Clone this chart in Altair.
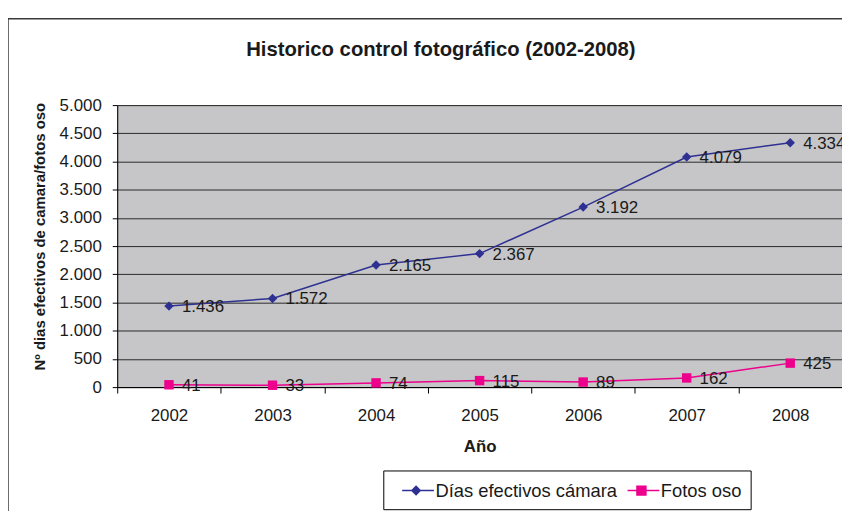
import altair as alt
import pandas as pd

# ---- data ----
years = ["2002", "2003", "2004", "2005", "2006", "2007", "2008"]
dias_camara = [1436, 1572, 2165, 2367, 3192, 4079, 4334]
fotos_oso = [41, 33, 74, 115, 89, 162, 425]
series_names = ["Días efectivos cámara", "Fotos oso"]
y_ticks = [0, 500, 1000, 1500, 2000, 2500, 3000, 3500, 4000, 4500, 5000]

colors = ["#2e3192", "#ec008c"]
marker_shapes = ["diamond", "square"]
FONT = "Liberation Sans"

rows = []
for name, vals in zip(series_names, [dias_camara, fotos_oso]):
    for yr, v in zip(years, vals):
        rows.append({"year": yr, "series": name, "value": v,
                     "label": f"{v:,}".replace(",", ".")})
df = pd.DataFrame(rows)

x_enc = alt.X(
    "year:O",
    sort=years,
    scale=alt.Scale(type="band", paddingInner=0, paddingOuter=0),
    axis=alt.Axis(
        title="Año", labelAngle=0, tickBand="extent", grid=False,
        labelFont=FONT, labelFontSize=17, labelColor="#1a1a1a", labelPadding=15,
        tickSize=6, tickColor="#000", domainColor="#000",
        titleFont=FONT, titleFontSize=17, titleFontWeight="bold", titleColor="#1a1a1a",
        titleX=365, titleY=60, titleBaseline="middle",
    ),
)
y_enc = alt.Y(
    "value:Q",
    scale=alt.Scale(domain=[0, 5000], nice=False),
    axis=alt.Axis(
        values=y_ticks,
        labelExpr="replace(format(datum.value, ','), ',', '.')",
        grid=True, gridColor="#2a2a2a", gridWidth=1,
        labelFont=FONT, labelFontSize=17, labelColor="#1a1a1a", labelPadding=11,
        tickSize=5, tickColor="#000", domainColor="#000",
        title="Nº dias efectivos de camara/fotos oso",
        titleFont=FONT, titleFontSize=15, titleFontWeight="bold", titleColor="#1a1a1a",
        titleX=-70, titleY=132, titleAlign="center",
    ),
)

legend_scale = alt.Scale(domain=series_names, range=colors)
legend_paths = [
    "M-0.1,0H3.1M0.88,0L1.3,-0.42L1.72,0L1.3,0.42Z",
    "M-0.1,0H3.1M0.85,-0.45H1.75V0.45H0.85Z",
]
legend = alt.Legend(
    title=None, orient="none", legendX=268, legendY=368, direction="horizontal",
    strokeColor="#000", fillColor="#ffffff", padding=9,
    labelFont=FONT, labelFontSize=18.5, labelColor="#1a1a1a", labelOffset=21.5,
    labelLimit=400,
    symbolSize=400, symbolStrokeWidth=1.5, symbolOpacity=1, columnPadding=0,
)

base = alt.Chart(df)

border = alt.Chart(pd.DataFrame({"k": [0]})).mark_rect(
    fillOpacity=0, stroke="#3a3a3a", strokeWidth=1.5
).encode(
    x=alt.value(-110), x2=alt.value(760), y=alt.value(-87), y2=alt.value(460)
)

layers = [border]
for name, col, shp in zip(series_names, colors, marker_shapes):
    sub = base.transform_filter(alt.datum.series == name)
    layers.append(sub.mark_line(strokeWidth=1.5, color=col).encode(x=x_enc, y=y_enc))
    layers.append(sub.mark_point(shape=shp, filled=True, size=90, opacity=1, color=col)
                  .encode(x=x_enc, y=y_enc))

# legend-only layer: no rows survive the filter, the legend comes from the scale domain
legend_layer = base.transform_filter("datum.value < 0").mark_point(strokeWidth=1.5).encode(
    x=x_enc, y=y_enc,
    fill=alt.Fill("series:N", scale=legend_scale, legend=legend),
    stroke=alt.Stroke("series:N", scale=legend_scale, legend=legend),
    shape=alt.Shape("series:N", scale=alt.Scale(domain=series_names, range=legend_paths), legend=legend),
)
layers.append(legend_layer)

labels = base.mark_text(
    align="left", baseline="middle", dx=13, dy=1, font=FONT, fontSize=17, color="#1a1a1a"
).encode(x=x_enc, y=y_enc, text="label:N")
layers.append(labels)

chart = alt.layer(*layers).properties(
    width=730, height=284,
    autosize=alt.AutoSizeParams(type="none"),
    padding={"left": 110, "top": 96, "right": 0, "bottom": 123},
    title=alt.TitleParams(
        text="Historico control fotográfico (2002-2008)",
        font=FONT, fontSize=20.4, fontWeight="bold", color="#1a1a1a",
        anchor="middle", dx=-39, offset=-59, baseline="alphabetic",
    ),
).configure_view(
    fill="#c6c6c8", stroke="#8a8a8a", strokeWidth=1
)

chart.save("out.html", embed_options={"renderer": "svg", "actions": False})
